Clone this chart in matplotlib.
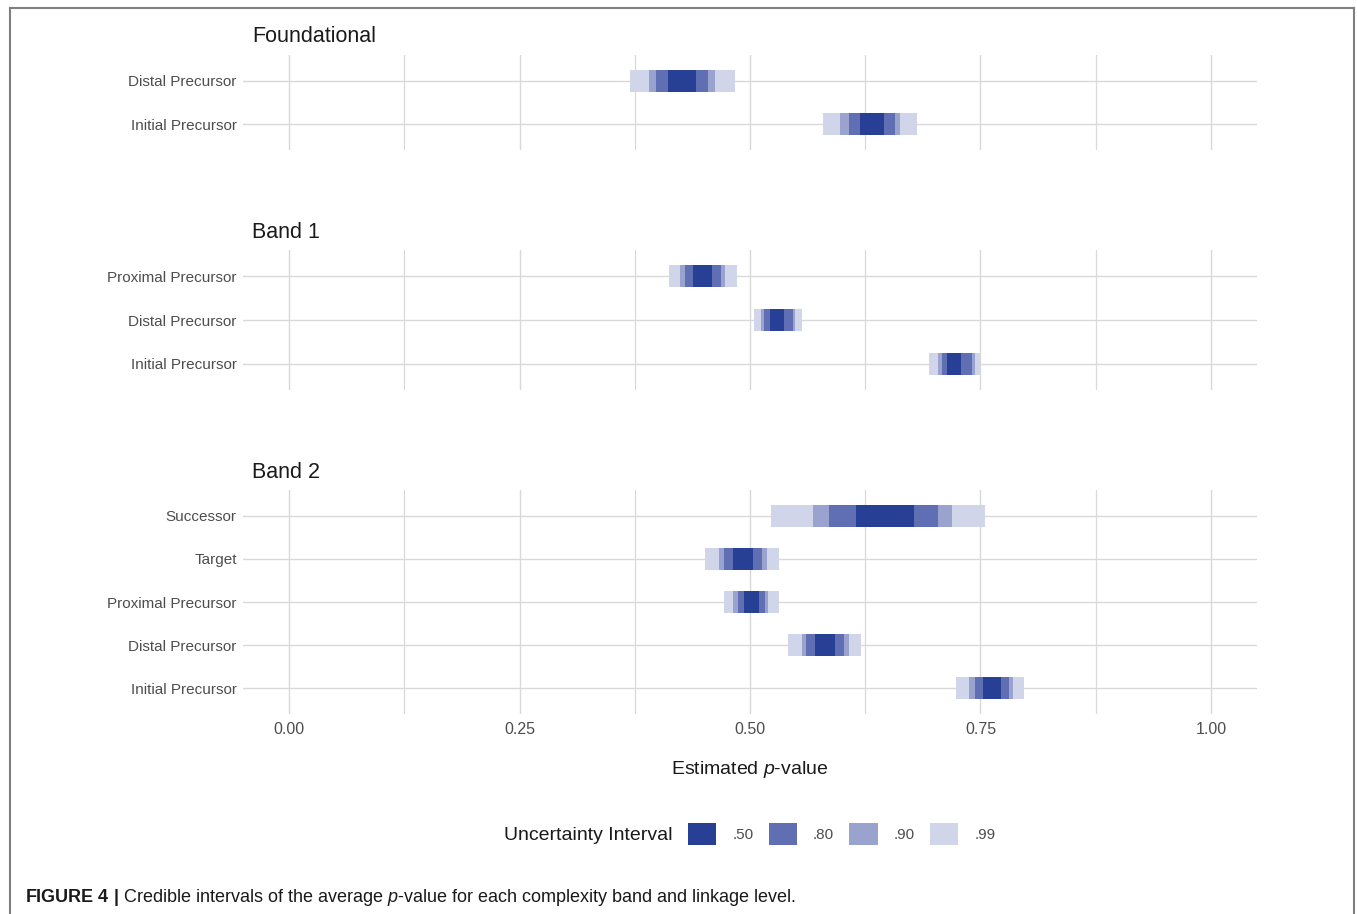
import matplotlib.pyplot as plt
from matplotlib.patches import Patch
from matplotlib.lines import Line2D

plt.rcParams['font.family'] = ['Liberation Sans Narrow', 'Liberation Sans', 'DejaVu Sans']
plt.rcParams['mathtext.fontset'] = 'custom'
plt.rcParams['mathtext.rm'] = 'Liberation Sans'
plt.rcParams['mathtext.it'] = 'Liberation Sans:italic'
plt.rcParams['mathtext.bf'] = 'Liberation Sans:bold'

# interval levels, widest first so the narrow ones sit on top
levels = ['.99', '.90', '.80', '.50']
level_colors = ['#d0d5e9', '#9aa2ce', '#606eb4', '#283f96']

# Foundational
found_rows = ['Distal Precursor', 'Initial Precursor']
found_lo = [[0.370, 0.390, 0.398, 0.4115],
            [0.579, 0.598, 0.607, 0.619]]
found_hi = [[0.484, 0.462, 0.454, 0.441],
            [0.681, 0.663, 0.657, 0.645]]

# Band 1
band1_rows = ['Proximal Precursor', 'Distal Precursor', 'Initial Precursor']
band1_lo = [[0.412, 0.4245, 0.430, 0.438],
            [0.504, 0.512, 0.515, 0.522],
            [0.6946, 0.7043, 0.708, 0.714]]
band1_hi = [[0.486, 0.473, 0.468, 0.459],
            [0.556, 0.549, 0.5465, 0.537],
            [0.7495, 0.744, 0.7405, 0.729]]

# Band 2
band2_rows = ['Successor', 'Target', 'Proximal Precursor',
              'Distal Precursor', 'Initial Precursor']
band2_lo = [[0.523, 0.568, 0.586, 0.615],
            [0.451, 0.466, 0.472, 0.482],
            [0.472, 0.482, 0.487, 0.493],
            [0.541, 0.556, 0.561, 0.571],
            [0.7235, 0.738, 0.744, 0.753]]
band2_hi = [[0.755, 0.719, 0.704, 0.6775],
            [0.532, 0.518, 0.5125, 0.503],
            [0.531, 0.520, 0.516, 0.510],
            [0.620, 0.607, 0.602, 0.592],
            [0.797, 0.785, 0.781, 0.772]]

x_ticks = [0.0, 0.25, 0.5, 0.75, 1.0]
x_tick_labels = ['0.00', '0.25', '0.50', '0.75', '1.00']

facets = [
    ('Foundational', found_rows, found_lo, found_hi, 55, 150),
    ('Band 1', band1_rows, band1_lo, band1_hi, 250, 390),
    ('Band 2', band2_rows, band2_lo, band2_hi, 490, 714),
]

W, H = 1357, 914
fig = plt.figure(figsize=(W / 100, H / 100), dpi=100)
grid_col = '#d9d9d9'
text_col = '#4d4d4d'

for i, (title, rows, lo, hi, top, bottom) in enumerate(facets):
    ax = fig.add_axes([243 / W, 1 - bottom / H, (1257 - 243) / W, (bottom - top) / H])
    n = len(rows)
    ys = list(range(n))
    for k, col in enumerate(level_colors):
        ax.barh(ys, [hi[r][k] - lo[r][k] for r in range(n)],
                left=[lo[r][k] for r in range(n)], height=0.5,
                color=col, zorder=2 + k, linewidth=0)
    ax.set_xlim(-0.05, 1.05)
    ax.set_ylim(n - 0.4, -0.6)
    ax.set_yticks(ys)
    ax.set_yticklabels(rows)
    ax.set_xticks(x_ticks)
    ax.set_xticks([0.125, 0.375, 0.625, 0.875], minor=True)
    if i == len(facets) - 1:
        ax.set_xticklabels(x_tick_labels)
    else:
        ax.set_xticklabels([])
    ax.grid(True, which='major', color=grid_col, lw=1.0, zorder=0)
    ax.grid(True, which='minor', axis='x', color=grid_col, lw=0.9, zorder=0)
    ax.set_axisbelow(True)
    ax.tick_params(which='both', length=0, labelcolor=text_col)
    ax.tick_params(axis='y', pad=4.5, labelsize=11)
    ax.tick_params(axis='x', pad=6, labelsize=11.5)
    for s in ax.spines.values():
        s.set_visible(False)
    fig.text(252 / W, 1 - (top - 18) / H, title, fontsize=15.5, ha='left',
             va='center', color='#1a1a1a')

fig.text(750 / W, 1 - 770 / H, 'Estimated $p$-value', fontsize=14,
         ha='center', va='center', color='#1a1a1a')

# legend
fig.text(504 / W, 1 - 835 / H, 'Uncertainty Interval', fontsize=14,
         ha='left', va='center', color='#1a1a1a')
order = [3, 2, 1, 0]
handles = [Patch(facecolor=level_colors[k], edgecolor='none') for k in order]
labels = [levels[k] for k in order]
fig.legend(handles, labels, loc='center left', bbox_to_anchor=(688 / W, 1 - 834 / H),
           ncol=4, frameon=False, fontsize=11, handlelength=1.85,
           handleheight=1.9, handletextpad=1.05, columnspacing=1.0,
           labelcolor=text_col, borderaxespad=0, borderpad=0)

# caption
fig.text(25 / W, 1 - 897 / H,
         r'$\mathbf{FIGURE\ 4\ |}$ Credible intervals of the average $p$-value '
         'for each complexity band and linkage level.',
         fontsize=13, ha='left', va='center', color='#1a1a1a')

# outer frame (open at the bottom)
fc = '#7f7f7f'
fig.add_artist(Line2D([9.5 / W, 9.5 / W], [0, 1 - 8 / H], color=fc, lw=1.5))
fig.add_artist(Line2D([9.5 / W, 1354 / W], [1 - 8 / H, 1 - 8 / H], color=fc, lw=1.5))
fig.add_artist(Line2D([1354 / W, 1354 / W], [0, 1 - 8 / H], color=fc, lw=1.5))

fig.savefig('out.png', dpi=100)
